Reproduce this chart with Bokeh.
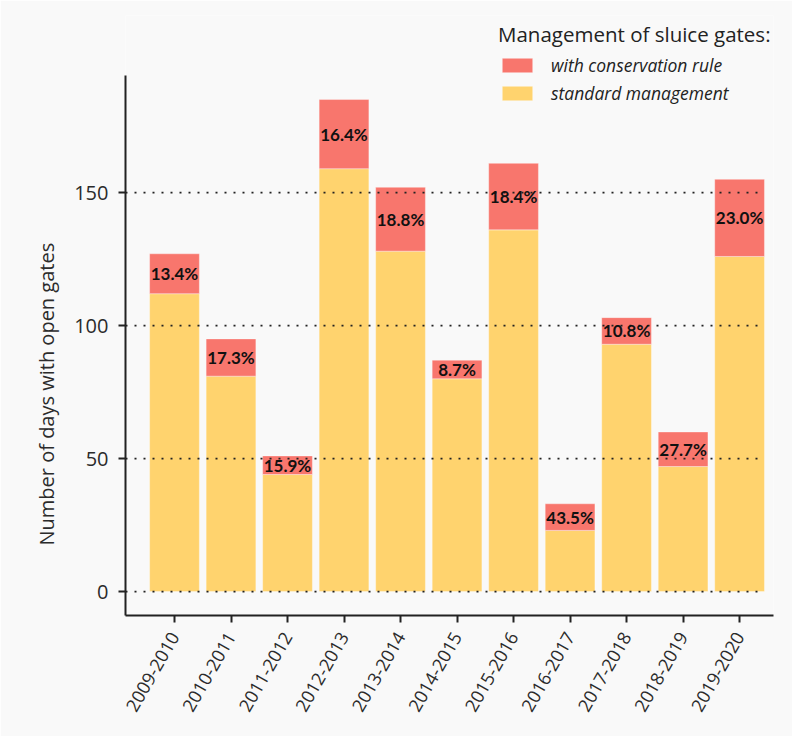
from bokeh.plotting import figure
from bokeh.models import ColumnDataSource, FixedTicker, Legend, LegendItem, Range1d, Title
from bokeh.core.properties import value
from bokeh.embed import file_html
from bokeh.resources import INLINE

seasons = ["2009-2010", "2010-2011", "2011-2012", "2012-2013", "2013-2014", "2014-2015",
           "2015-2016", "2016-2017", "2017-2018", "2018-2019", "2019-2020"]
standard = [112, 81, 44, 159, 128, 80, 136, 23, 93, 47, 126]
conservation = [15, 14, 7, 26, 24, 7, 25, 10, 10, 13, 29]
pct_labels = ["13.4%", "17.3%", "15.9%", "16.4%", "18.8%", "8.7%", "18.4%", "43.5%",
              "10.8%", "27.7%", "23.0%"]
y_ticks = [0, 50, 100, 150]
y_axis_bounds = (-9, 194)
y_label = "Number of days with open gates"

YELLOW = "#ffd36e"
RED = "#f8766d"
BG = "#f9f9f9"
TXT = "#2b2b2b"
FONT = "Open Sans"

xs = list(range(len(seasons)))
bar_w = 0.88
source = ColumnDataSource(dict(
    x=xs,
    standard=standard,
    conservation=conservation,
    label_y=[s + c / 2 for s, c in zip(standard, conservation)],
    label=pct_labels,
))

# frame extends above the drawn axis so that the legend (inside the frame) is not clipped
x_start, x_end = -0.867, len(seasons) - 1 + 0.6
y_start, y_end = y_axis_bounds[0], y_axis_bounds[1] + 22.6
p = figure(width=792, height=736,
           x_range=Range1d(x_start, x_end), y_range=Range1d(y_start, y_end),
           output_backend="svg", toolbar_location=None,
           min_border_left=125, min_border_right=19, min_border_top=15, min_border_bottom=121,
           background_fill_color=BG, border_fill_color=BG, outline_line_color=None)

rs = p.vbar_stack(["standard", "conservation"], x="x", width=bar_w, color=[YELLOW, RED],
                  source=source, line_color="white", line_alpha=0.35, line_width=1)

# dotted horizontal reference lines (drawn over the bars)
p.segment(x0=[x_start] * len(y_ticks), y0=y_ticks,
          x1=[len(seasons) - 1 + bar_w / 2] * len(y_ticks), y1=y_ticks,
          line_color="#222222", line_width=1.8, line_dash="2 7")

p.text(x="x", y="label_y", text="label", source=source, text_align="center",
       text_baseline="middle", text_font=value("Lato"), text_font_style="bold",
       text_font_size="17px", text_color="#111111")

p.xgrid.visible = False
p.ygrid.visible = False

for ax in (p.xaxis[0], p.yaxis[0]):
    ax.axis_line_color = "#222222"
    ax.axis_line_width = 2
    ax.major_tick_line_color = "#222222"
    ax.major_tick_line_width = 2
    ax.major_tick_in = 0
    ax.major_tick_out = 7
    ax.minor_tick_line_color = None
    ax.major_label_text_font = FONT
    ax.major_label_text_color = TXT

p.xaxis.ticker = FixedTicker(ticks=xs)
p.xaxis.major_label_overrides = {i: s for i, s in zip(xs, seasons)}
p.xaxis.major_label_orientation = 1.05
p.xaxis.major_label_text_font_size = "18px"
p.xaxis.major_label_standoff = 11

p.yaxis.ticker = FixedTicker(ticks=y_ticks)
p.yaxis.bounds = y_axis_bounds
p.yaxis.major_label_text_font_size = "20px"
p.yaxis.major_label_standoff = 10

# y-axis title, placed along the left side (starts 70px above the frame bottom)
p.add_layout(Title(text=y_label, align="left", offset=70, standoff=24,
                   text_font=FONT, text_font_style="normal", text_font_size="20px",
                   text_color=TXT), "left")

legend = Legend(items=[LegendItem(label="with conservation rule", renderers=[rs[1]]),
                       LegendItem(label="standard management", renderers=[rs[0]])],
                title="Management of sluice gates:",
                location=(373, 510),
                padding=0, margin=0, spacing=4,
                glyph_width=38, glyph_height=18, label_height=18,
                label_standoff=15, title_standoff=5,
                border_line_color=None, background_fill_alpha=0)
legend.title_text_font = FONT
legend.title_text_font_size = "20.5px"
legend.title_text_font_style = "normal"
legend.title_text_color = "#222222"
legend.label_text_font = FONT
legend.label_text_font_size = "17.5px"
legend.label_text_font_style = "italic"
legend.label_text_color = "#222222"
p.add_layout(legend)

open("out.html", "w").write(file_html(p, INLINE))
